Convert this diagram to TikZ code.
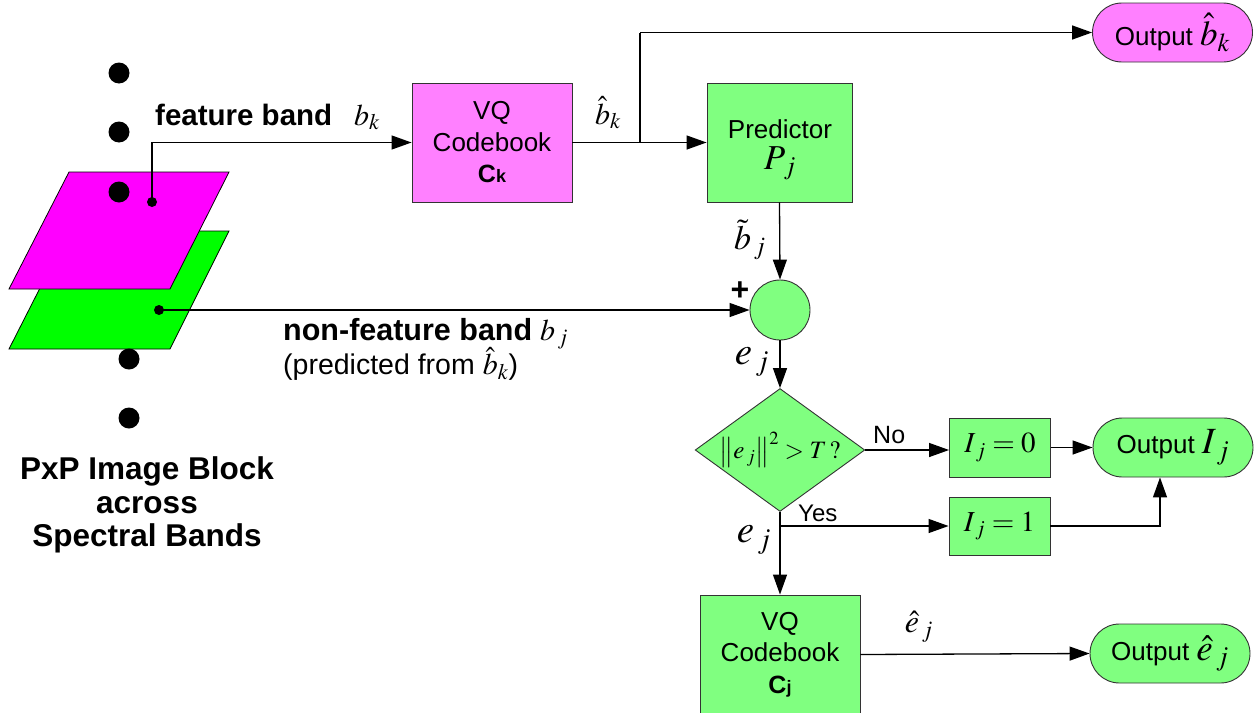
\documentclass[tikz,border=0pt]{standalone}
\usepackage{mathptmx}
\usepackage[no-math]{fontspec}
\setmainfont{Liberation Sans}
\usetikzlibrary{arrows.meta,shapes.geometric,shapes.misc}
\definecolor{bandmag}{HTML}{FF00FF}
\definecolor{bandgrn}{HTML}{00FF00}
\definecolor{boxmag}{HTML}{FF80FF}
\definecolor{boxgrn}{HTML}{80FF80}
\newcommand{\fs}[1]{\fontsize{#1}{1.2\dimexpr #1pt\relax}\selectfont}
\begin{document}
\begin{tikzpicture}[x=1pt,y=-1pt,
  wire/.style={line width=1.3pt, draw=black},
  arr/.style={wire, -{Triangle[length=20pt,width=14pt]}},
  blk/.style={draw=black!80, line width=0.9pt, inner sep=0pt, align=center,
    minimum width=160pt, minimum height=119pt, font=\fontsize{26}{31.5}\selectfont},
  pill/.style={rounded rectangle, draw=black!80, line width=0.9pt, inner sep=0pt,
    minimum width=160pt, minimum height=59pt, font=\fontsize{26}{30}\selectfont},
  flag/.style={draw=black!80, line width=0.9pt, inner sep=0pt, fill=boxgrn,
    minimum width=101pt, minimum height=59pt},
  lbl/.style={inner sep=0pt},
]
\useasboundingbox (0,0) rectangle (1255,712);

% stacked spectral bands
\draw[fill=bandgrn, line width=0.8pt] (69,231) -- (229,231) -- (170,349) -- (9,349) -- cycle;
\draw[fill=bandmag, line width=0.8pt] (69,172) -- (229,172) -- (170,289) -- (9,289) -- cycle;
\foreach \p in {(119,73),(119,132),(119,192),(129,359),(129,418)}
  \fill \p circle (10.5pt);
\coordinate (dk) at (152,202);
\coordinate (dj) at (159,310);
\fill (dk) circle (5pt);
\fill (dj) circle (5pt);

% blocks
\node[blk, fill=boxmag] (vqk) at (492,142.5) {VQ\\Codebook\\\textbf{\fontsize{25}{25}\selectfont C{\fontsize{18}{18}\selectfont k}}};
\node[blk, fill=boxgrn, minimum width=145pt] (pred) at (779.5,142.5) {};
\node[lbl, align=center, font=\fs{26}] (predtxt) at (780,150) {Predictor\\[0pt]{\fs{35}$P_{\,j}$}};
\node[pill, fill=boxmag] (outb) at (1172.5,32.5) {Output {\fs{35}$\hat{b}_{k}$}};
\node[circle, draw=black!80, line width=0.9pt, fill=boxgrn, minimum size=60pt, inner sep=0pt] (sum) at (780,310) {};
\node[diamond, draw=black!80, line width=0.9pt, fill=boxgrn, aspect=1.38, inner sep=0pt,
  minimum width=160pt, minimum height=116pt, font=\fs{25}] (dec) at (780,450)
  {$\left\| e_{\,j}\right\|^{2} > T\,\mathit{?}$};
\node[flag, font=\fs{29}] (i0) at (1000,447.5) {$I_{\,j} = 0$};
\node[flag, font=\fs{29}, minimum height=58pt] (i1) at (999.5,526) {$I_{\,j} = 1$};
\node[pill, fill=boxgrn] (outi) at (1173,447.5) {Output\ {\fs{37}$I_{\,j}$}};
\node[blk, fill=boxgrn] (vqj) at (780,654.5) {VQ\\Codebook\\\textbf{\fontsize{25}{25}\selectfont C{\fontsize{18}{18}\selectfont j}}};
\node[pill, fill=boxgrn] (oute) at (1170,653.5) {Output {\fs{37}$\hat{e}_{\,j}$}};

% connectors
\coordinate (br) at (640,142.5);
\coordinate (ys) at (780,526);
\draw[arr] (dk) |- (vqk.west);
\draw[arr] (vqk.east) -- (pred.west);
\draw[wire] (br) -- (br |- outb.west);
\draw[arr] (br |- outb.west) -- (outb.west);
\draw[arr] (pred.south) -- (sum.north);
\draw[arr] (dj) -- (sum.west);
\draw[arr] (sum.south) -- (dec.north);
\draw[arr] (dec.east) -- (dec.east -| i0.west);
\draw[arr] (i0.east) -- (outi.west);
\draw[arr] (dec.south) -- (vqj.north);
\draw[arr] (ys) -- (i1.west);
\draw[arr] (i1.east) -| ([xshift=-13pt]outi.south);
\draw[arr] (vqj.east) -- (oute.west);

% labels
\node[lbl, anchor=base west, font=\bfseries\fs{29.5}] (fbt) at (155,125) {feature band\hspace{22pt}{\mdseries\fs{30}$b_{k}$}};
\node[lbl, anchor=north west, align=left, font=\fs{28.5}] (nfb) at (283,318)
  {\textbf{\fs{30.5}non-feature band} {\fs{30}$b_{\,j}$}\\[-3pt](predicted from {\fs{30}$\hat{b}_{k}$})};
\node[lbl, align=center, font=\bfseries\fs{31.5}] (pxp) at (147,505)
  {PxP Image Block\\[-4pt]across\\[-4pt]Spectral Bands};
\node[lbl, font=\fs{30}] (bk) at (608,113) {$\hat{b}_{k}$};
\node[lbl, font=\fs{34}] (bt) at (750,240) {$\tilde{b}_{\,j}$};
\node[lbl, font=\bfseries\fs{32}] (plus) at (740,291) {+};
\node[lbl, font=\fs{39}] (ej1) at (752,362) {$e_{\,j}$};
\node[lbl, font=\fs{39}] (ej2) at (754,540) {$e_{\,j}$};
\node[lbl, anchor=base west, font=\fs{25}] (no) at (873,443) {No};
\node[lbl, anchor=base west, font=\fs{24}] (yes) at (798,521) {Yes};
\node[lbl, font=\fs{32}] (eh) at (919,627) {$\hat{e}_{\,j}$};
\end{tikzpicture}
\end{document}
